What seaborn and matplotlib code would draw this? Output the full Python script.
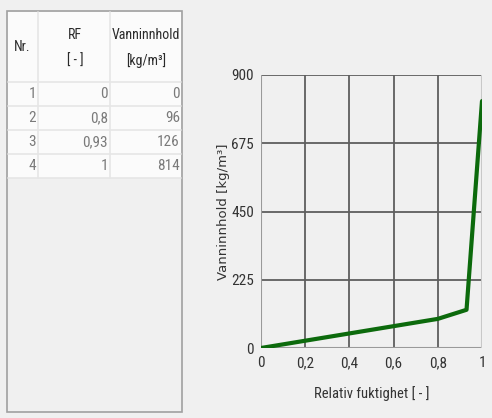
import matplotlib
matplotlib.use("Agg")
import matplotlib.pyplot as plt
from matplotlib.patches import Rectangle
from matplotlib.lines import Line2D
from matplotlib import font_manager
import seaborn as sns
import pandas as pd

# Sorption curve data
nr = [1, 2, 3, 4]
rf = [0, 0.8, 0.93, 1]
vanninnhold = [0, 96, 126, 814]
rf_labels = ["0", "0,8", "0,93", "1"]
vann_labels = ["0", "96", "126", "814"]

x_ticks = [0, 0.2, 0.4, 0.6, 0.8, 1]
x_tick_labels = ["0", "0,2", "0,4", "0,6", "0,8", "1"]
y_ticks = [0, 225, 450, 675, 900]
y_tick_labels = ["0", "225", "450", "675", "900"]

sns.set_theme(style="white")
plt.rcParams["font.family"] = ["DejaVu Sans"]

# pick a condensed face when one is installed
names = {f.name for f in font_manager.fontManager.ttflist}
narrow_choice = None
for cand in ["Liberation Sans Narrow", "DejaVu Sans Condensed", "Roboto Condensed",
             "Open Sans Condensed", "Noto Sans Condensed"]:
    if cand in names:
        narrow_choice = cand
        break
condensed_faces = [f for f in font_manager.fontManager.ttflist
                   if f.stretch in ("condensed", "semi-condensed", 600, 500)]
if narrow_choice is None and condensed_faces:
    narrow_choice = condensed_faces[0].name
NARROW = [narrow_choice, "DejaVu Sans"] if narrow_choice else ["Liberation Sans"]
NARROW_KW = dict(family=NARROW, stretch="condensed")

BG = "#f0f0f0"
W, H = 492, 418
fig = plt.figure(figsize=(W / 100, H / 100), dpi=100, facecolor=BG)


def fx(px):
    return px / W


def fy(py):
    return 1 - py / H


# ---- table panel ----
tl, tr, tt, tb = 7, 182, 11, 412
fig.patches.append(Rectangle((fx(tl), fy(tb)), fx(tr - tl), fy(tt) - fy(tb),
                             transform=fig.transFigure, facecolor=BG,
                             edgecolor="#a0a0a0", lw=1.2, zorder=1))
rows_bottom = 178
fig.patches.append(Rectangle((fx(tl + 1), fy(rows_bottom)), fx(tr - tl - 2),
                             fy(tt + 1) - fy(rows_bottom),
                             transform=fig.transFigure, facecolor="#fbfbfb",
                             edgecolor="none", zorder=2))
grid_c = "#e6e6e6"
col_x = [38, 110]
for cx in col_x:
    fig.lines.append(Line2D([fx(cx), fx(cx)], [fy(tt + 1), fy(rows_bottom)],
                            transform=fig.transFigure, color=grid_c, lw=1.2, zorder=3))
row_y = [82, 106, 130, 154, 178]
for ry in row_y:
    fig.lines.append(Line2D([fx(tl + 1), fx(tr - 1)], [fy(ry), fy(ry)],
                            transform=fig.transFigure, color=grid_c, lw=1.2, zorder=3))

hdr_c = "#2a2a2a"
hdr_fs = 10
cell_fs = 11
fig.text(fx(22), fy(47), "Nr.", ha="center", va="center", color=hdr_c,
         fontsize=hdr_fs, **NARROW_KW)
fig.text(fx(75), fy(35), "RF", ha="center", va="center", color=hdr_c,
         fontsize=hdr_fs, **NARROW_KW)
fig.text(fx(75), fy(61), "[ - ]", ha="center", va="center", color=hdr_c,
         fontsize=hdr_fs, **NARROW_KW)
fig.text(fx(146), fy(35), "Vanninnhold", ha="center", va="center", color=hdr_c,
         fontsize=hdr_fs, **NARROW_KW)
fig.text(fx(146), fy(61), "[kg/m³]", ha="center", va="center", color=hdr_c,
         fontsize=hdr_fs, **NARROW_KW)

cell_c = "#7a7a7a"
for i in range(len(nr)):
    cy = fy((row_y[i] + row_y[i + 1]) / 2)
    fig.text(fx(36), cy, str(nr[i]), ha="right", va="center", color=cell_c,
             fontsize=cell_fs, **NARROW_KW)
    fig.text(fx(108), cy, rf_labels[i], ha="right", va="center", color=cell_c,
             fontsize=cell_fs, **NARROW_KW)
    fig.text(fx(180), cy, vann_labels[i], ha="right", va="center", color=cell_c,
             fontsize=cell_fs, **NARROW_KW)

# ---- chart ----
ax = fig.add_axes([fx(261), fy(348), fx(482 - 261), fy(75) - fy(348)])
ax.set_facecolor(BG)
df = pd.DataFrame({"RF": rf, "Vanninnhold": vanninnhold})
sns.lineplot(data=df, x="RF", y="Vanninnhold", ax=ax, color="#0c6a0c",
             lw=3.0, zorder=5)

ax.set_xlim(0, 1)
ax.set_ylim(0, 900)
ax.set_xticks(x_ticks)
ax.set_xticklabels(x_tick_labels, fontsize=11, color="#333333", **NARROW_KW)
ax.set_yticks(y_ticks)
ax.set_yticklabels(y_tick_labels, fontsize=11, color="#333333", **NARROW_KW)
ax.tick_params(axis="x", length=0, pad=6)
ax.tick_params(axis="y", length=0, pad=5)
ax.grid(True, color="#5e5e5e", lw=1.3)
for s in ax.spines.values():
    s.set_visible(False)
ax.axhline(0, color="#9a9a9a", lw=1.5, zorder=4)
ax.axvline(0, color="#9a9a9a", lw=1.5, zorder=4)
ax.axvline(1, color="#c8c8c8", lw=1.5, zorder=4)

ax.set_xlabel("Relativ fuktighet [ - ]", fontsize=10.5, color="#333333",
              **NARROW_KW)
ax.xaxis.set_label_coords(0.5, -0.14)
ax.set_ylabel("Vanninnhold [kg/m³]", fontsize=9.5, color="#333333")
ax.yaxis.set_label_coords(-0.14, 0.5)

fig.savefig("out.png", dpi=100, facecolor=BG)
